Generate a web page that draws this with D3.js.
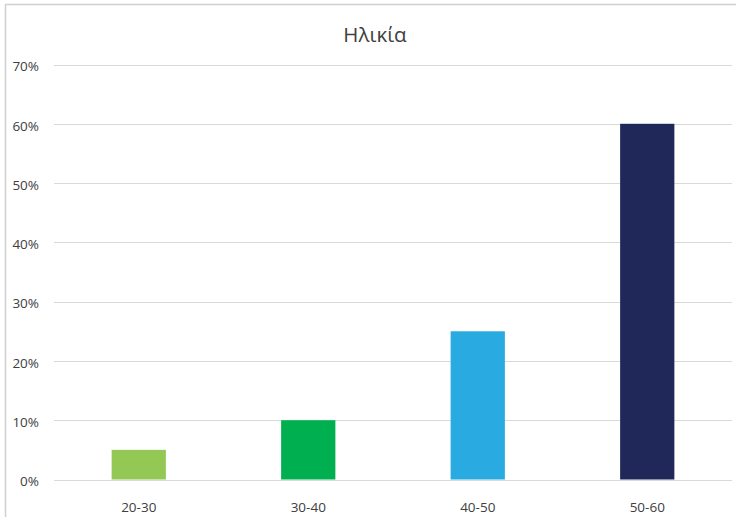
<!DOCTYPE html>
<html>
<head>
<meta charset="utf-8">
<script src="https://cdn.jsdelivr.net/npm/d3@7"></script>
<style>
  html, body { margin: 0; padding: 0; background: #fff; }
  svg { display: block; font-family: "Open Sans", "Noto Sans", sans-serif; }
</style>
</head>
<body>
<svg id="chart" width="736" height="517"></svg>
<script>
// Age distribution (share of respondents)
const categories = ["20-30", "30-40", "40-50", "50-60"];
const values = [0.05, 0.10, 0.25, 0.60];
const barColors = ["#92C853", "#00B050", "#29ABE2", "#1F2859"];
const yTicks = [0, 0.1, 0.2, 0.3, 0.4, 0.5, 0.6, 0.7];
const title = "Ηλικία";

const svg = d3.select("#chart");
const plot = { left: 54, right: 732, top: 64.5, bottom: 479.5 };

// Chart area frame
svg.append("rect")
  .attr("x", 5.5).attr("y", 4.5)
  .attr("width", 760).attr("height", 560)
  .attr("fill", "#fff")
  .attr("stroke", "#d0d0d0").attr("stroke-width", 1.5);

const x = d3.scaleBand()
  .domain(categories)
  .range([plot.left, plot.right])
  .paddingInner(0.68)
  .paddingOuter(0.34);

const y = d3.scaleLinear()
  .domain([0, 0.7])
  .range([plot.bottom, plot.top]);

// Horizontal gridlines
svg.append("g")
  .selectAll("line")
  .data(yTicks)
  .join("line")
  .attr("x1", plot.left).attr("x2", plot.right)
  .attr("y1", d => Math.round(y(d)) + 0.5)
  .attr("y2", d => Math.round(y(d)) + 0.5)
  .attr("stroke", "#d9d9d9").attr("stroke-width", 1);

// Y axis labels
const yAxis = d3.axisLeft(y)
  .tickValues(yTicks)
  .tickFormat(d3.format(".0%"))
  .tickSize(0)
  .tickPadding(0);
svg.append("g")
  .attr("transform", `translate(39,2)`)
  .call(yAxis)
  .call(g => g.select(".domain").remove())
  .call(g => g.selectAll("text")
    .attr("fill", "#404040")
    .style("font-size", "13.5px")
    .style("font-family", "'Open Sans', sans-serif"));

// Bars
svg.append("g")
  .selectAll("rect")
  .data(categories)
  .join("rect")
  .attr("x", d => x(d))
  .attr("width", x.bandwidth())
  .attr("y", (d, i) => y(values[i]))
  .attr("height", (d, i) => y(0) - y(values[i]))
  .attr("fill", (d, i) => barColors[i]);

// X axis labels
const xAxis = d3.axisBottom(x).tickSize(0).tickPadding(0);
svg.append("g")
  .attr("transform", `translate(0,${plot.bottom + 22.5})`)
  .call(xAxis)
  .call(g => g.select(".domain").remove())
  .call(g => g.selectAll("text")
    .attr("fill", "#404040")
    .style("font-size", "13.5px")
    .style("font-family", "'Open Sans', sans-serif"));

// Title
svg.append("text")
  .attr("x", 375).attr("y", 42)
  .attr("text-anchor", "middle")
  .attr("fill", "#404040")
  .style("font-size", "20.5px")
  .text(title);
</script>
</body>
</html>
